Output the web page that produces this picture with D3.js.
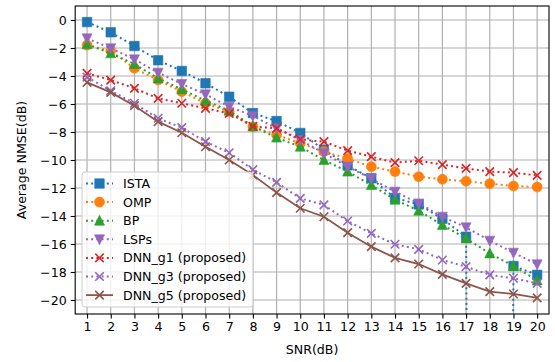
<!DOCTYPE html>
<html><head><meta charset="utf-8">
<script src="https://cdn.jsdelivr.net/npm/d3@7"></script>
<style>body{margin:0;background:#fff}svg{display:block}text{font-family:"DejaVu Sans",sans-serif;}</style>
</head><body><svg id="c" width="555" height="362"></svg>
<script>
const snr = [1,2,3,4,5,6,7,8,9,10,11,12,13,14,15,16,17,18,19,20];
const ista  = [-0.15,-0.88,-1.86,-2.88,-3.64,-4.52,-5.48,-6.65,-7.22,-8.07,-9.26,-10.38,-11.31,-12.72,-13.17,-14.2,-15.48,-300,-17.57,-18.2];
const omp   = [-1.79,-2.2,-3.45,-4.29,-5.12,-5.95,-6.55,-7.62,-8.21,-8.81,-9.4,-9.9,-10.48,-10.83,-11.19,-11.38,-11.52,-11.69,-11.86,-11.93];
const bp    = [-1.74,-2.38,-3.14,-4.17,-4.95,-5.76,-6.48,-7.6,-8.4,-9.05,-10.0,-10.83,-11.79,-12.84,-13.62,-14.64,-15.6,-16.67,-17.57,-18.6];
const lsps  = [-1.31,-2.02,-2.81,-3.76,-4.57,-5.31,-6.19,-6.85,-7.74,-8.57,-9.52,-10.47,-11.33,-12.26,-13.1,-14.05,-14.81,-15.76,-16.62,-17.45];
const dnn1  = [-3.81,-4.29,-4.88,-5.6,-5.95,-6.31,-6.67,-7.6,-7.74,-8.52,-8.69,-9.33,-9.76,-10.19,-10.05,-10.33,-10.6,-10.83,-10.9,-11.1];
const dnn3  = [-4.08,-5.05,-5.95,-7.02,-7.69,-8.69,-9.48,-10.69,-11.6,-12.74,-13.21,-14.36,-15.24,-16.02,-16.38,-17.14,-17.62,-18.21,-18.45,-18.81];
const dnn5  = [-4.46,-5.17,-6.12,-7.26,-8.05,-9.05,-10.0,-11.07,-12.33,-13.45,-14.05,-15.19,-16.19,-16.99,-17.43,-18.17,-18.81,-19.4,-19.57,-19.85];
const yTicks = [0,-2,-4,-6,-8,-10,-12,-14,-16,-18,-20];
const seriesNames = ["ISTA","OMP","BP","LSPs","DNN_g1 (proposed)","DNN_g3 (proposed)","DNN_g5 (proposed)"];

const series = [
  {name:seriesNames[0], v:ista, color:"#1f77b4", marker:"square", dotted:true},
  {name:seriesNames[1], v:omp,  color:"#ff7f0e", marker:"circle", dotted:true},
  {name:seriesNames[2], v:bp,   color:"#2ca02c", marker:"triup", dotted:true},
  {name:seriesNames[3], v:lsps, color:"#9467bd", marker:"tridown", dotted:true},
  {name:seriesNames[4], v:dnn1, color:"#d62728", marker:"x", dotted:true},
  {name:seriesNames[5], v:dnn3, color:"#9467bd", marker:"x", dotted:true},
  {name:seriesNames[6], v:dnn5, color:"#8c564b", marker:"x", dotted:false},
];

const FS = 12.6;
const L=75.2, R=549, T=6, B=314;
const svg = d3.select("#c");
const x = d3.scaleLinear().domain([0.5,20.5]).range([L,R]);
const y = d3.scaleLinear().domain([-21,1]).range([B,T]);

// grid
const g = svg.append("g");
g.selectAll(".gx").data(snr).enter().append("line")
  .attr("x1",d=>x(d)).attr("x2",d=>x(d)).attr("y1",T).attr("y2",B)
  .attr("stroke","#b0b0b0").attr("stroke-width",1.2);
g.selectAll(".gy").data(yTicks).enter().append("line")
  .attr("y1",d=>y(d)).attr("y2",d=>y(d)).attr("x1",L).attr("x2",R)
  .attr("stroke","#b0b0b0").attr("stroke-width",1.2);

svg.append("defs").append("clipPath").attr("id","clip").append("rect")
  .attr("x",L).attr("y",T).attr("width",R-L).attr("height",B-T);

function markerPath(type, s){
  const h=s/2;
  if(type==="square") return `M${-h},${-h}H${h}V${h}H${-h}Z`;
  if(type==="circle") return d3.symbol(d3.symbolCircle, Math.PI*h*h)();
  if(type==="triup") return `M0,${-h*1.1}L${h},${h*0.9}L${-h},${h*0.9}Z`;
  if(type==="tridown") return `M0,${h*1.1}L${h},${-h*0.9}L${-h},${-h*0.9}Z`;
  if(type==="x") { const k=h*0.85; return `M${-k},${-k}L${k},${k}M${-k},${k}L${k},${-k}`; }
}
function drawMarker(sel, s){
  sel.attr("d", d=>markerPath(s.marker, s.marker==="x"?10:(s.marker==="square"?9.5:10)));
  if(s.marker==="x") sel.attr("fill","none").attr("stroke",s.color).attr("stroke-width",1.6);
  else sel.attr("fill",s.color).attr("stroke",s.color).attr("stroke-width",1).attr("stroke-opacity",0.6);
}

const plot = svg.append("g").attr("clip-path","url(#clip)");
const line = d3.line().x((d,i)=>x(snr[i])).y(d=>y(d));
series.forEach(s=>{
  const gg = plot.append("g");
  gg.append("path").datum(s.v).attr("d",line).attr("fill","none")
    .attr("stroke",s.color).attr("stroke-width",s.dotted?2:1.8)
    .attr("stroke-dasharray",s.dotted?"2,3.2":null);
  gg.selectAll("path.m").data(s.v).enter().append("path").attr("class","m")
    .attr("transform",(d,i)=>`translate(${x(snr[i])},${y(d)})`)
    .call(sel=>drawMarker(sel,s));
});

// frame
svg.append("rect").attr("x",L).attr("y",T).attr("width",R-L).attr("height",B-T)
  .attr("fill","none").attr("stroke","#000").attr("stroke-width",1.1);

// axes
const xa = svg.append("g").attr("transform",`translate(0,${B})`)
  .call(d3.axisBottom(x).tickValues(snr).tickSize(4.5).tickSizeOuter(0).tickPadding(4));
const ya = svg.append("g").attr("transform",`translate(${L},0)`)
  .call(d3.axisLeft(y).tickValues(yTicks).tickSize(4.5).tickSizeOuter(0).tickPadding(4)
    .tickFormat(d=>d<0?"\u2212"+Math.abs(d):String(d)));
[xa,ya].forEach(a=>{
  a.select(".domain").remove();
  a.selectAll("text").attr("font-size",FS).attr("fill","#000").attr("font-family","DejaVu Sans");
  a.selectAll("line").attr("stroke","#000").attr("stroke-width",1.1);
});

svg.append("text").attr("x",(L+R)/2).attr("y",354).attr("text-anchor","middle")
  .attr("font-size",FS).text("SNR(dB)");
svg.append("text").attr("transform",`translate(26,${(T+B)/2}) rotate(-90)`)
  .attr("text-anchor","middle").attr("font-size",FS).text("Average NMSE(dB)");

// legend
const lg = svg.append("g");
lg.append("rect").attr("x",82).attr("y",172).attr("width",171).attr("height",135).attr("rx",3)
  .attr("fill","#fff").attr("fill-opacity",0.8).attr("stroke","#cccccc").attr("stroke-width",1);
series.forEach((s,i)=>{
  const cy = 183.5 + i*18.6;
  lg.append("line").attr("x1",86).attr("x2",113).attr("y1",cy).attr("y2",cy)
    .attr("stroke",s.color).attr("stroke-width",s.dotted?2:1.8).attr("stroke-dasharray",s.dotted?"2,3.2":null);
  lg.append("path").datum(0).attr("transform",`translate(99.5,${cy})`).call(sel=>drawMarker(sel,s));
  lg.append("text").attr("x",123).attr("y",cy+4.5).attr("font-size",FS).text(s.name);
});
</script></body></html>
